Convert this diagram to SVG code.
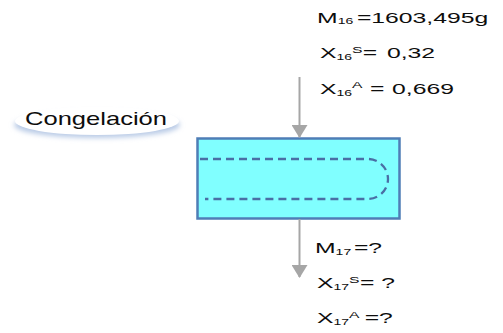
<svg xmlns="http://www.w3.org/2000/svg" width="503" height="333" viewBox="0 0 503 333">
<style>
.t{font-family:"Liberation Sans",Arial,sans-serif;font-size:15px;fill:#0d0d0d}
.s{font-size:8.5px}
.p{font-size:9.5px}
.c{font-family:"Liberation Sans",Arial,sans-serif;font-size:18px;fill:#0d0d0d}
.arr{stroke:#a6a6a6;stroke-width:2;fill:none;marker-end:url(#ah)}
</style>
<defs>
<marker id="ah" markerUnits="userSpaceOnUse" markerWidth="13" markerHeight="16" refX="12" refY="8" orient="auto" viewBox="0 0 13 16">
<path d="M0,0 L13,8 L0,16 Z" fill="#a6a6a6"/>
</marker>
<filter id="blur" x="-20%" y="-50%" width="140%" height="200%"><feGaussianBlur stdDeviation="2.5"/></filter>
</defs>
<g id="congelacion">
<ellipse cx="97" cy="125" rx="83" ry="13" fill="#b9cbe6" filter="url(#blur)"/>
<ellipse cx="97" cy="121" rx="82" ry="14" fill="#ffffff"/>
<text class="c" transform="translate(25,125) scale(1.42,1)" x="0" y="0">Congelación</text>
</g>
<g id="equipo">
<rect x="197.5" y="138.5" width="202" height="80" fill="#80ffff" stroke="#4f7db6" stroke-width="2.5"/>
<path d="M200,159 H368 A20,20 0 0 1 368,199 H205" fill="none" stroke="#4a6fa5" stroke-width="2.3" stroke-dasharray="8,5"/>
</g>
<g id="connectors">
<line class="arr" x1="299.5" y1="77" x2="299.5" y2="137"/>
<line class="arr" x1="299.5" y1="219" x2="299.5" y2="277"/>
</g>
<g id="entrada">
<text class="t" transform="translate(0,23) scale(1.65,1)"><tspan x="192.2">M</tspan><tspan class="s" dy="1">16</tspan><tspan x="216.3" dy="-1">=1603,495g</tspan></text>
<text class="t" transform="translate(0,58) scale(1.65,1)"><tspan x="193.9">X</tspan><tspan class="s" dy="2">16</tspan><tspan class="p" dy="-7.5">S</tspan><tspan x="219.9" dy="5.5">=</tspan><tspan x="234.5">0,32</tspan></text>
<text class="t" transform="translate(0,94) scale(1.65,1)"><tspan x="193.9">X</tspan><tspan class="s" dy="2">16</tspan><tspan class="p" dy="-8">A</tspan><tspan x="224.2" dy="6">=</tspan><tspan x="237.6">0,669</tspan></text>
</g>
<g id="salida">
<text class="t" transform="translate(0,253) scale(1.65,1)"><tspan x="190.9">M</tspan><tspan class="s" dy="2">17</tspan><tspan x="214.5" dy="-2">=?</tspan></text>
<text class="t" transform="translate(0,288) scale(1.65,1)"><tspan x="192.1">X</tspan><tspan class="s" dy="2">17</tspan><tspan class="p" dy="-7.5">S</tspan><tspan x="218.2" dy="5.5">=</tspan><tspan x="231">?</tspan></text>
<text class="t" transform="translate(0,323) scale(1.65,1)"><tspan x="192.1">X</tspan><tspan class="s" dy="2">17</tspan><tspan class="p" dy="-7.5">A</tspan><tspan x="221" dy="5.5">=?</tspan></text>
</g>
</svg>
